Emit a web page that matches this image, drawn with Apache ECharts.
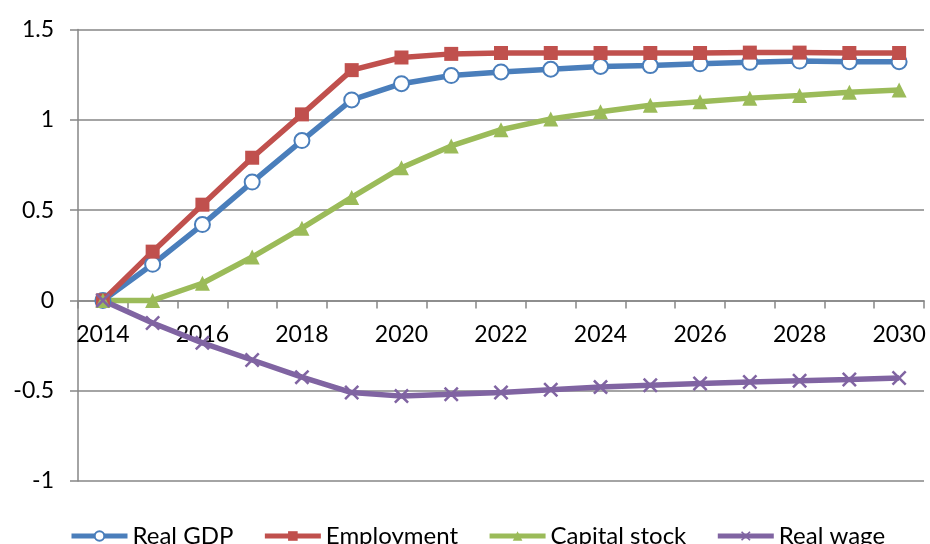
<!DOCTYPE html>
<html>
<head>
<meta charset="utf-8">
<script src="https://cdn.jsdelivr.net/npm/echarts@6/dist/echarts.min.js"></script>
<style>
html,body{margin:0;padding:0;background:#fff;}
#chart{width:930px;height:544px;}
</style>
</head>
<body>
<div id="chart"></div>
<script>
const years = ['2014','2015','2016','2017','2018','2019','2020','2021','2022','2023','2024','2025','2026','2027','2028','2029','2030'];
const realGDP = [0, 0.20, 0.42, 0.655, 0.885, 1.11, 1.20, 1.245, 1.265, 1.28, 1.295, 1.30, 1.31, 1.318, 1.325, 1.322, 1.322];
const employment = [0, 0.27, 0.53, 0.79, 1.03, 1.275, 1.345, 1.365, 1.37, 1.37, 1.37, 1.37, 1.37, 1.372, 1.372, 1.37, 1.37];
const capitalStock = [0, 0, 0.095, 0.24, 0.40, 0.57, 0.735, 0.855, 0.945, 1.005, 1.045, 1.08, 1.10, 1.12, 1.135, 1.152, 1.165];
const realWage = [0, -0.125, -0.235, -0.33, -0.425, -0.51, -0.53, -0.52, -0.51, -0.495, -0.48, -0.47, -0.46, -0.452, -0.445, -0.438, -0.43];
const yTicks = {min: -1, max: 1.5, interval: 0.5};

const FONT = 'Lato';
const GRAY = '#868686';
const crossPath = 'path://M0,1.2L1.2,0L5,3.8L8.8,0L10,1.2L6.2,5L10,8.8L8.8,10L5,6.2L1.2,10L0,8.8L3.8,5Z';

const GRID_TOP = 29.5, GRID_BOTTOM_PX = 481;
const zeroY = GRID_TOP + (GRID_BOTTOM_PX - GRID_TOP) * (yTicks.max - 0) / (yTicks.max - yTicks.min);

function ser(name, data, color, symbol, size, extra) {
  return Object.assign({
    name: name, type: 'line', data: data,
    symbol: symbol, symbolSize: size,
    lineStyle: {color: color, width: 5.5},
    itemStyle: {color: color},
    emphasis: {disabled: true},
    animation: false
  }, extra || {});
}

const chart = echarts.init(document.getElementById('chart'));
chart.setOption({
  backgroundColor: '#fff',
  animation: false,
  textStyle: {fontFamily: FONT},
  grid: {left: 78, right: 6, top: GRID_TOP, bottom: 544 - GRID_BOTTOM_PX, containLabel: false},
  legend: {
    left: 64, top: 519,
    itemWidth: 56, itemHeight: 12, itemGap: 29,
    lineStyle: {width: 5},
    textStyle: {fontFamily: FONT, fontSize: 24, color: '#000'},
    data: ['Real GDP', 'Employment', 'Capital stock', 'Real wage']
  },
  xAxis: {
    type: 'category', data: years, boundaryGap: true,
    offset: -(GRID_BOTTOM_PX - zeroY),
    axisLine: {onZero: false, lineStyle: {color: GRAY, width: 1.5}},
    axisTick: {show: true, interval: 0, length: 8, lineStyle: {color: GRAY, width: 1.5}},
    axisLabel: {interval: 1, margin: 23, fontSize: 23, color: '#000', fontFamily: FONT},
    splitLine: {show: false}
  },
  yAxis: {
    type: 'value', min: yTicks.min, max: yTicks.max, interval: yTicks.interval,
    axisLine: {show: true, lineStyle: {color: GRAY, width: 1.5}},
    axisTick: {show: true, length: 8, lineStyle: {color: GRAY, width: 1.5}},
    axisLabel: {margin: 24, fontSize: 23, color: '#000', fontFamily: FONT},
    splitLine: {show: true, lineStyle: {color: GRAY, width: 1.5}}
  },
  series: [
    ser('Real GDP', realGDP, '#4A7EBB', 'emptyCircle', 15, {itemStyle: {color: '#4A7EBB', borderWidth: 2}}),
    ser('Employment', employment, '#C0504D', 'rect', 14),
    ser('Capital stock', capitalStock, '#9BBB59', 'triangle', 15),
    ser('Real wage', realWage, '#8064A2', crossPath, 15)
  ]
});
</script>
</body>
</html>
